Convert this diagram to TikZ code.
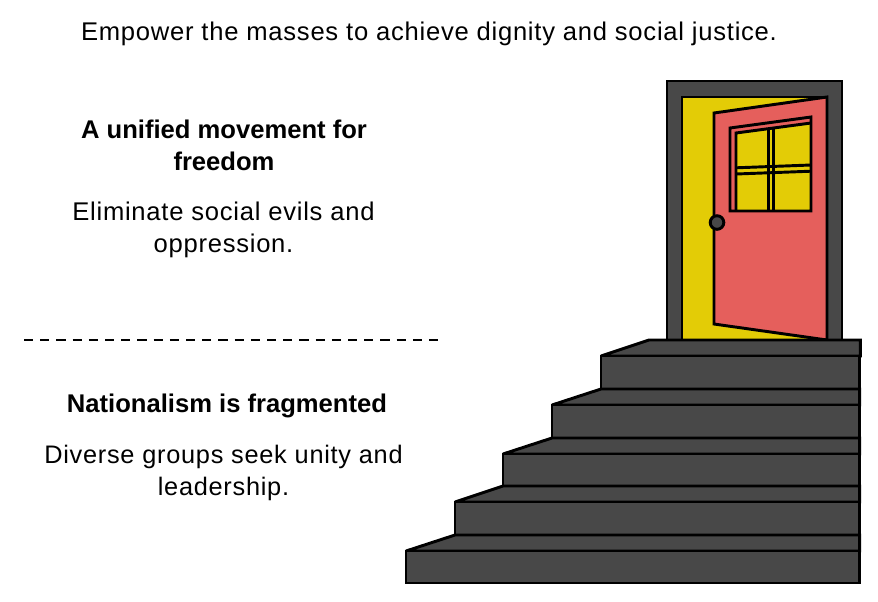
\documentclass[tikz,border=0pt]{standalone}
\usepackage{fontspec}
\setmainfont{Liberation Sans}
\newfontfamily\bodyface[LetterSpace=2.9]{Liberation Sans}
\definecolor{stepgray}{HTML}{484848}
\definecolor{dooryellow}{HTML}{E3CC06}
\definecolor{doorred}{HTML}{E55F5C}
\tikzset{
  shape line/.style={draw=black,line width=2.2pt,line join=miter,miter limit=2},
  graybox/.style={shape line,fill=stepgray},
  body text/.style={font=\bodyface\fontsize{19.2pt}{24pt}\selectfont,align=center,text=black,inner sep=0pt},
  head text/.style={font=\fontsize{19.2pt}{24pt}\selectfont\bfseries,align=center,text=black,inner sep=0pt}
}
\begin{document}
\begin{tikzpicture}[x=0.75pt,y=-0.75pt]
\useasboundingbox (0,0) rectangle (878,601);
% door
\draw[graybox] (667,81) rectangle (842,340);
\draw[shape line,fill=dooryellow] (682,97) rectangle (827,340);
\draw[shape line,fill=doorred] (714,113) -- (827,97) -- (827,340) -- (714,324) -- cycle;
% window
\fill[dooryellow] (736,133) -- (811,123) -- (811,211) -- (736,211) -- cycle;
\draw[shape line] (736,211) -- (736,133) -- (811,123);
\draw[shape line] (768.3,128.7) -- (768.3,211);
\draw[shape line] (773.3,128.1) -- (773.3,211);
\draw[shape line] (736,167.8) -- (811,165);
\draw[shape line] (736,174) -- (811,171.2);
\draw[shape line] (730,128) -- (811,117) -- (811,211) -- (730,211) -- cycle;
\draw[shape line,fill=stepgray] (717,222.5) circle (6.8);
% stairs
\draw[graybox] (601,356) -- (649,340) -- (860.3,340) -- (860.3,356) -- cycle;
\draw[graybox] (601,356) rectangle (859.7,389);
\draw[graybox] (552,405) -- (601,389) -- (859.7,389) -- (859.7,405) -- cycle;
\draw[graybox] (552,405) rectangle (859.7,438);
\draw[graybox] (503,454) -- (552,438) -- (859.7,438) -- (859.7,454) -- cycle;
\draw[graybox] (503,454) rectangle (859.7,486);
\draw[graybox] (455,502) -- (503,486) -- (859.7,486) -- (859.7,502) -- cycle;
\draw[graybox] (455,502) rectangle (859.7,535);
\draw[graybox] (406,551) -- (455,535) -- (859.7,535) -- (859.7,551) -- cycle;
\draw[graybox] (406,551) rectangle (859.7,583);
% divider
\coordinate (divL) at (24,340);
\coordinate (divR) at (440,340);
\draw[black,line width=2.1pt,dash pattern=on 6.9pt off 5.25pt] (divL) -- (divR);
% text
\node[body text] (title) at (429,33.5) {Empower the masses to achieve dignity and social justice.};
\node[head text] (headA) at (224,145.5) {A unified movement for\\freedom};
\node[body text] (bodyA) at (223.5,229.5) {Eliminate social evils and\\oppression.};
\node[head text] (headB) at (227,405.5) {Nationalism is fragmented};
\node[body text,font=\bodyface\fontsize{19pt}{24pt}\selectfont] (bodyB) at (223.5,472.5) {Diverse groups seek unity and\\leadership.};
\end{tikzpicture}
\end{document}
